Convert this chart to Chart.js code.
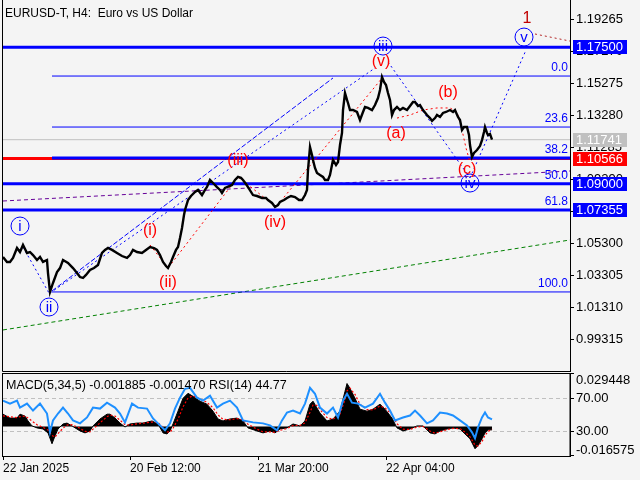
<!DOCTYPE html>
<html>
<head>
<meta charset="utf-8">
<script src="https://cdn.jsdelivr.net/npm/chart.js@4.4.1/dist/chart.umd.min.js"></script>
<style>
  html, body { margin: 0; padding: 0; background: #f4f4f4; }
  #wrap { position: relative; width: 640px; height: 480px; overflow: hidden; }
  #main { position: absolute; left: 0; top: 0; }
  #sub { position: absolute; left: 0; top: 372px; }
</style>
</head>
<body>
<div id="wrap">
  <canvas id="main" width="640" height="372"></canvas>
  <canvas id="sub" width="640" height="108"></canvas>
</div>
<script>
const FONT = '"Liberation Sans", Arial, sans-serif';
const titleText = 'EURUSD-T, H4:  Euro vs US Dollar';

// H4 bars, one bar per pixel column
const lastBar = 567;
const timeTicks = [0, 127, 255, 383];
const timeLabels = ['22 Jan 2025', '20 Feb 12:00', '21 Mar 20:00', '22 Apr 04:00'];

const priceMin = 0.97322;
const priceMax = 1.2045;
const priceTicks = [0.99315, 1.01310, 1.03305, 1.05300, 1.07295, 1.09290, 1.11285, 1.13280, 1.15275, 1.17270, 1.19265];

const priceBars = [
  0, 4, 7, 10, 14, 17, 20, 24, 27, 30, 34, 37, 40, 44, 45, 47, 50, 54, 57, 60,
  65, 70, 74, 77, 80, 83, 87, 91, 95, 99, 102, 105, 109, 114, 119, 124, 127, 130, 134, 139,
  143, 147, 151, 154, 157, 160, 163, 165, 168, 170, 173, 175, 177, 179, 181, 182, 185, 188, 192, 195,
  199, 202, 204, 207, 211, 214, 217, 219, 222, 224, 229, 232, 235, 238, 240, 243, 245, 250, 254, 259,
  263, 265, 269, 272, 275, 277, 281, 284, 288, 292, 296, 299, 302, 304, 305, 307, 309, 310, 312, 314,
  317, 320, 322, 325, 327, 330, 333, 335, 337, 339, 340, 342, 344, 345, 347, 350, 354, 357, 360, 362,
  365, 369, 372, 375, 377, 379, 381, 383, 385, 387, 389, 391, 394, 397, 400, 404, 407, 410, 412, 415,
  417, 420, 424, 427, 429, 432, 434, 437, 440, 443, 447, 450, 452, 455, 457, 459, 461, 464, 466, 467,
  469, 471, 474, 477, 479, 481, 482, 484, 485, 487, 489
];
const priceValues = [
  1.0443, 1.0412, 1.0412, 1.0437, 1.0499, 1.0474, 1.0518, 1.0468, 1.0474, 1.0455, 1.0424, 1.0443, 1.0412, 1.0424, 1.0343, 1.0225, 1.0281, 1.0349, 1.0374, 1.0424,
  1.0406, 1.0374, 1.0343, 1.0318, 1.0312, 1.0331, 1.0362, 1.0374, 1.0393, 1.0468, 1.0487, 1.0499, 1.0487, 1.0468, 1.0449, 1.0437, 1.0455, 1.0487, 1.0474, 1.0468,
  1.0487, 1.0505, 1.0499, 1.0487, 1.0455, 1.0412, 1.0387, 1.0374, 1.0412, 1.0443, 1.0487, 1.0505, 1.0561, 1.0624, 1.0705, 1.0736, 1.0798, 1.0823, 1.0848, 1.0861,
  1.0829, 1.0861, 1.0879, 1.0923, 1.0898, 1.0879, 1.0861, 1.0842, 1.0873, 1.0879, 1.0892, 1.0923, 1.0942, 1.0936, 1.0923, 1.0898, 1.0879, 1.0829, 1.0823, 1.0811,
  1.0811, 1.0798, 1.0780, 1.0755, 1.0767, 1.0786, 1.0798, 1.0811, 1.0823, 1.0817, 1.0798, 1.0798, 1.0829, 1.0861, 1.0985, 1.1129, 1.1079, 1.1048, 1.0998, 1.0967,
  1.0954, 1.0942, 1.0923, 1.0923, 1.0954, 1.1048, 1.1016, 1.1035, 1.1141, 1.1216, 1.1359, 1.1465, 1.1422, 1.1403, 1.1359, 1.1359, 1.1347, 1.1297, 1.1347, 1.1378,
  1.1372, 1.1359, 1.1390, 1.1434, 1.1484, 1.1565, 1.1534, 1.1515, 1.1465, 1.1422, 1.1328, 1.1359, 1.1378, 1.1359, 1.1372, 1.1359, 1.1384, 1.1409, 1.1409, 1.1384,
  1.1390, 1.1359, 1.1328, 1.1309, 1.1291, 1.1309, 1.1328, 1.1316, 1.1341, 1.1347, 1.1359, 1.1347, 1.1359, 1.1316, 1.1297, 1.1235, 1.1253, 1.1253, 1.1203, 1.1141,
  1.1066, 1.1091, 1.1110, 1.1135, 1.1172, 1.1222, 1.1253, 1.1216, 1.1203, 1.1210, 1.1174
];

// horizontal levels with price boxes on the axis
const levelPrices = [1.17500, 1.11741, 1.10566, 1.09000, 1.07355];
const levelColors = ['#0000ff', '#c0c0c0', '#ff0000', '#0000ff', '#0000ff'];
const levelWidths = [3, 1, 3, 3, 3];

// fibonacci retracement
const fibLabels = ['0.0', '23.6', '38.2', '50.0', '61.8', '100.0'];
const fibPrices = [1.1571, 1.1253, 1.1060, 1.0898, 1.0736, 1.0225];
const fibWidths = [1, 1, 3, 1, 1, 1];
const fibStartBar = 49;

// wave marks
const blueWaves = ['i', 'ii', 'iii', 'iv', 'v'];
const blueWaveBars = [17, 46, 380, 467, 521];
const blueWavePrices = [1.0636, 1.0131, 1.1758, 1.0904, 1.1814];
const redWaves = ['(i)', '(ii)', '(iii)', '(iv)', '(v)', '(a)', '(b)', '(c)'];
const redWaveBars = [147, 165, 235, 272, 378, 393, 445, 464];
const redWavePrices = [1.0605, 1.0281, 1.1041, 1.0655, 1.1659, 1.1210, 1.1465, 1.0985];
const degreeBar = 524;
const degreePrice = 1.1927;

// drawn lines as [bar, price]
const channelA = [[49, 1.0231], [330, 1.1559]];
const channelB = [[47, 1.0218], [372, 1.1621]];
const waveOneTwo = [[20, 1.0505], [46, 1.0218]];
const waveThreeFour = [[385, 1.1659], [467, 1.0936]];
const waveFourFive = [[467, 1.0936], [523, 1.1733]];
const subWaves = [[147, 1.0518], [165, 1.0374], [235, 1.0942], [273, 1.0755], [380, 1.1565]];
const subWavesABC = [[394, 1.1309], [407, 1.1328], [420, 1.1359], [434, 1.1372], [447, 1.1372], [454, 1.1347], [459, 1.1235], [463, 1.1122], [467, 1.1035]];
const purpleLine = [[0, 1.0792], [567, 1.0979]];
const greenLine = [[0, 0.9988], [567, 1.0549]];
const targetLine = [[532, 1.1833], [567, 1.1789]];

// oscillators
const macdMin = -0.016575;
const macdMax = 0.029448;
const macdLast = -0.001885;
const signalLast = -0.001470;
const rsiLast = 44.77;
const macdBars = [
  0, 7, 14, 17, 22, 25, 29, 34, 40, 45, 49, 52, 55, 60, 64, 69, 77, 82, 87, 90,
  97, 104, 107, 112, 117, 122, 127, 134, 140, 149, 155, 160, 164, 167, 170, 175, 180, 185, 190, 197,
  204, 210, 215, 220, 227, 234, 240, 245, 254, 260, 267, 272, 277, 284, 290, 297, 302, 307, 310, 314,
  317, 324, 330, 337, 342, 344, 347, 352, 357, 364, 370, 377, 382, 389, 394, 400, 407, 414, 420, 427,
  432, 437, 444, 450, 457, 462, 467, 472, 475, 479, 482, 485, 489
];
const macdValues = [
  0.0069, 0.0047, 0.0047, 0.0069, 0.0058, 0.0031, 0.0003, -0.0008, -0.0014, -0.0036, -0.0097, -0.0053, -0.0014, 0.0014, 0.0019, 0.0003, -0.0025, -0.0036, -0.0025, 0.0003,
  0.0042, 0.0069, 0.0069, 0.0047, 0.0019, -0.0003, 0.0014, 0.0019, 0.0019, 0.0031, 0.0014, -0.0036, -0.0042, -0.0025, 0.0014, 0.0086, 0.0158, 0.0186, 0.0169, 0.0142,
  0.0125, 0.0086, 0.0042, 0.0031, 0.0042, 0.0047, 0.0031, -0.0008, -0.0025, -0.0036, -0.0025, -0.0036, -0.0014, -0.0008, 0.0014, 0.0003, 0.0031, 0.0125, 0.0142, 0.0103,
  0.0075, 0.0031, 0.0042, 0.0086, 0.0197, 0.0241, 0.0214, 0.0158, 0.0097, 0.0086, 0.0097, 0.0125, 0.0097, 0.0047, -0.0008, -0.0025, -0.0014, 0.0003, 0.0003, -0.0036,
  -0.0042, -0.0025, -0.0014, -0.0008, -0.0014, -0.0042, -0.0069, -0.0125, -0.0108, -0.0069, -0.0036, -0.0019, -0.0019
];
const signalValues = [
  0.0060, 0.0055, 0.0050, 0.0055, 0.0058, 0.0048, 0.0030, 0.0010, -0.0005, -0.0020, -0.0050, -0.0060, -0.0040, -0.0010, 0.0008, 0.0010, -0.0010, -0.0028, -0.0030, -0.0015,
  0.0020, 0.0055, 0.0065, 0.0058, 0.0035, 0.0010, 0.0008, 0.0015, 0.0018, 0.0025, 0.0022, -0.0005, -0.0030, -0.0033, -0.0010, 0.0040, 0.0110, 0.0160, 0.0172, 0.0155,
  0.0135, 0.0105, 0.0065, 0.0040, 0.0038, 0.0044, 0.0038, 0.0012, -0.0015, -0.0030, -0.0030, -0.0033, -0.0022, -0.0012, 0.0005, 0.0006, 0.0020, 0.0080, 0.0120, 0.0118,
  0.0095, 0.0050, 0.0040, 0.0070, 0.0150, 0.0200, 0.0215, 0.0180, 0.0125, 0.0095, 0.0093, 0.0115, 0.0105, 0.0065, 0.0015, -0.0015, -0.0017, -0.0003, 0.0000, -0.0025,
  -0.0038, -0.0030, -0.0018, -0.0011, -0.0012, -0.0032, -0.0058, -0.0105, -0.0110, -0.0085, -0.0050, -0.0028, -0.0015
];
const rsiBars = [
  0, 7, 14, 17, 24, 30, 37, 44, 47, 50, 55, 60, 65, 70, 77, 84, 90, 97, 104, 112,
  117, 122, 129, 135, 144, 150, 157, 162, 167, 172, 177, 182, 187, 194, 200, 207, 214, 220, 227, 234,
  240, 250, 260, 267, 274, 279, 284, 290, 297, 302, 307, 312, 317, 324, 330, 335, 340, 344, 349, 355,
  362, 370, 377, 382, 387, 392, 400, 407, 412, 417, 424, 430, 437, 444, 450, 457, 464, 469, 472, 475,
  479, 482, 485, 489
];
const rsiValues = [
  67.5, 63.9, 67.5, 59.0, 63.9, 55.4, 63.9, 51.8, 28.9, 43.4, 51.8, 59.0, 51.8, 43.4, 39.8, 47.0, 59.0, 57.8, 65.1, 59.0,
  51.8, 41.0, 63.9, 59.0, 57.8, 45.8, 37.3, 31.3, 39.8, 57.8, 71.1, 81.9, 83.1, 71.1, 67.5, 73.5, 59.0, 63.9, 67.5, 59.0,
  43.4, 41.0, 39.8, 37.3, 31.3, 43.4, 53.0, 55.4, 51.8, 63.9, 83.1, 75.9, 59.0, 51.8, 59.0, 47.0, 67.5, 75.9, 65.1, 63.9,
  59.0, 63.9, 75.9, 65.1, 55.4, 43.4, 47.0, 49.4, 55.4, 49.4, 39.8, 43.4, 53.0, 51.8, 49.4, 43.4, 37.3, 28.9, 21.7, 34.9,
  47.0, 53.0, 47.0, 44.77
];
const rsiLevels = [30, 70];

const pts = (bars, vals) => bars.map((b, i) => ({x: b, y: vals[i]}));
const pairPts = arr => arr.map(p => ({x: p[0], y: p[1]}));

function lineSet(data, color, width, dash, extra) {
  return Object.assign({
    type: 'line', data: data, borderColor: color, borderWidth: width,
    borderDash: dash || [], pointRadius: 0, fill: false, tension: 0
  }, extra || {});
}

// first dataset ends up on top
const mainSets = [];
mainSets.push({
  type: 'scatter', data: pts(blueWaveBars, blueWavePrices), pointRadius: 9,
  pointBorderColor: '#0000ff', pointBackgroundColor: 'rgba(0,0,0,0)', pointBorderWidth: 1
});
mainSets.push(lineSet(pts(priceBars, priceValues), '#000000', 2.4));
mainSets.push(lineSet(pairPts(waveOneTwo), '#0000ff', 1, [2, 3]));
mainSets.push(lineSet(pairPts(waveThreeFour), '#0000ff', 1, [2, 3]));
mainSets.push(lineSet(pairPts(waveFourFive), '#0000ff', 1, [2, 3]));
mainSets.push(lineSet(pairPts(subWaves), '#ff0000', 1, [2, 3]));
mainSets.push(lineSet(pairPts(subWavesABC), '#ff0000', 1, [2, 3]));
mainSets.push(lineSet(pairPts(channelA), '#0000ff', 1, [5, 2]));
mainSets.push(lineSet(pairPts(channelB), '#0000ff', 1, [2, 3]));
mainSets.push(lineSet(pairPts(targetLine), '#b22222', 1, [2, 3]));
fibPrices.forEach((p, i) => {
  mainSets.push(lineSet([{x: fibStartBar, y: p}, {x: lastBar, y: p}], '#0000ff', fibWidths[i]));
});
levelPrices.forEach((p, i) => {
  mainSets.push(lineSet([{x: 0, y: p}, {x: lastBar, y: p}], levelColors[i], levelWidths[i]));
});
mainSets.push(lineSet(pairPts(purpleLine), '#660099', 1, [4, 3]));
mainSets.push(lineSet(pairPts(greenLine), '#008000', 1, [4, 3]));

const mainDecor = {
  id: 'mainDecor',
  afterDatasetsDraw(chart) {
    const {ctx, chartArea: a} = chart;
    const x = chart.scales.x, y = chart.scales.y;
    ctx.save();
    ctx.font = '12px ' + FONT;
    ctx.fillStyle = '#0000ff';
    ctx.textAlign = 'right';
    ctx.textBaseline = 'bottom';
    fibLabels.forEach((t, i) => ctx.fillText(t, a.right - 2, y.getPixelForValue(fibPrices[i]) - 2));

    ctx.textAlign = 'center';
    ctx.textBaseline = 'middle';
    ctx.font = '16px ' + FONT;
    ctx.fillStyle = '#ff0000';
    redWaves.forEach((t, i) => ctx.fillText(t, x.getPixelForValue(redWaveBars[i]), y.getPixelForValue(redWavePrices[i])));
    ctx.fillStyle = '#c00000';
    ctx.fillText('1', x.getPixelForValue(degreeBar), y.getPixelForValue(degreePrice));
    ctx.font = '15px ' + FONT;
    ctx.fillStyle = '#0000ff';
    blueWaves.forEach((t, i) => ctx.fillText(t, x.getPixelForValue(blueWaveBars[i]), y.getPixelForValue(blueWavePrices[i]) + 1));
    ctx.restore();
  },
  afterDraw(chart) {
    const {ctx, chartArea: a} = chart;
    const y = chart.scales.y;
    ctx.save();
    ctx.strokeStyle = '#000';
    ctx.lineWidth = 1;
    ctx.beginPath();
    ctx.moveTo(a.left - 0.5, a.top);
    ctx.lineTo(a.left - 0.5, a.bottom + 0.5);
    ctx.lineTo(a.right, a.bottom + 0.5);
    ctx.stroke();

    ctx.font = '12px ' + FONT;
    ctx.fillStyle = '#000';
    ctx.textAlign = 'left';
    ctx.textBaseline = 'alphabetic';
    ctx.fillText(titleText, 5, 17);

    ctx.font = '13px ' + FONT;
    ctx.textBaseline = 'middle';
    levelPrices.forEach((p, i) => {
      const py = Math.round(y.getPixelForValue(p));
      ctx.fillStyle = levelColors[i];
      ctx.fillRect(a.right + 3, py - 7, 54, 14);
      ctx.fillStyle = '#ffffff';
      ctx.fillText(p.toFixed(5), a.right + 6, py + 0.5);
    });
    ctx.restore();
  }
};

new Chart(document.getElementById('main'), {
  type: 'line',
  data: {datasets: mainSets},
  options: {
    responsive: false,
    animation: false,
    events: [],
    layout: {autoPadding: false, padding: {left: 3, right: 0, top: 0, bottom: 1}},
    plugins: {legend: {display: false}, tooltip: {enabled: false}},
    scales: {
      x: {type: 'linear', min: 0, max: lastBar, display: false},
      y: {
        type: 'linear', position: 'right', min: priceMin, max: priceMax,
        afterBuildTicks: s => { s.ticks = priceTicks.map(v => ({value: v})); },
        afterFit: s => { s.width = 70; s.paddingTop = 0; s.paddingBottom = 0; },
        ticks: {
          autoSkip: false, padding: 2, color: '#000',
          font: {family: FONT, size: 13},
          callback: v => v.toFixed(5)
        },
        grid: {drawOnChartArea: false, tickLength: 4, tickColor: '#000'},
        border: {color: '#000'}
      }
    }
  },
  plugins: [mainDecor]
});

const subDecor = {
  id: 'subDecor',
  afterDraw(chart) {
    const {ctx, chartArea: a} = chart;
    ctx.save();
    ctx.strokeStyle = '#000';
    ctx.lineWidth = 1;
    ctx.strokeRect(a.left - 0.5, a.top - 0.5, a.right - a.left + 0.5, a.bottom - a.top + 1);
    ctx.beginPath();
    ctx.moveTo(a.right, a.top - 0.5); ctx.lineTo(a.right + 4, a.top - 0.5);
    ctx.moveTo(a.right, a.bottom - 0.5); ctx.lineTo(a.right + 4, a.bottom - 0.5);
    ctx.stroke();

    ctx.font = '12.5px ' + FONT;
    ctx.fillStyle = '#000';
    ctx.textAlign = 'left';
    ctx.textBaseline = 'alphabetic';
    ctx.fillText('MACD(5,34,5) ' + macdLast.toFixed(6) + ' ' + signalLast.toFixed(6) + ' RSI(14) ' + rsiLast.toFixed(2), 6, 17);

    ctx.font = '13px ' + FONT;
    ctx.textBaseline = 'middle';
    ctx.fillText(macdMax.toFixed(6), a.right + 6, a.top + 6);
    ctx.fillText(macdMin.toFixed(6), a.right + 6, a.bottom - 6);
    ctx.restore();
  }
};

new Chart(document.getElementById('sub'), {
  type: 'line',
  data: {
    datasets: [
      lineSet(pts(rsiBars, rsiValues), '#1e90ff', 2, [], {yAxisID: 'rsi'}),
      lineSet(pts(macdBars, signalValues), '#ff0000', 1.2, [2, 2], {yAxisID: 'macd'}),
      lineSet(pts(macdBars, macdValues), '#000000', 1, [], {yAxisID: 'macd', fill: 'origin', backgroundColor: '#000000'})
    ]
  },
  options: {
    responsive: false,
    animation: false,
    events: [],
    layout: {autoPadding: false, padding: {left: 3, right: 0, top: 2, bottom: 0}},
    plugins: {legend: {display: false}, tooltip: {enabled: false}},
    scales: {
      x: {
        type: 'linear', min: 0, max: lastBar,
        afterBuildTicks: s => { s.ticks = timeTicks.map(v => ({value: v})); },
        afterFit: s => { s.height = 24; s.paddingLeft = 0; s.paddingRight = 0; },
        ticks: {
          autoSkip: false, maxRotation: 0, align: 'start', padding: 1, color: '#000',
          font: {family: FONT, size: 12},
          callback: (v, i) => timeLabels[i]
        },
        grid: {drawOnChartArea: false, tickLength: 4, tickColor: '#000'},
        border: {color: '#000'}
      },
      rsi: {
        type: 'linear', position: 'right', min: 0, max: 100,
        afterBuildTicks: s => { s.ticks = rsiLevels.map(v => ({value: v})); },
        afterFit: s => { s.width = 70; s.paddingTop = 0; s.paddingBottom = 0; },
        ticks: {
          autoSkip: false, padding: 2, color: '#000',
          font: {family: FONT, size: 13},
          callback: v => v.toFixed(2)
        },
        grid: {color: '#c0c0c0', tickLength: 4, tickColor: '#000', tickBorderDash: [1, 0]},
        border: {color: '#000', dash: [4, 3]}
      },
      macd: {type: 'linear', display: false, min: macdMin, max: macdMax}
    }
  },
  plugins: [subDecor]
});
</script>
</body>
</html>
